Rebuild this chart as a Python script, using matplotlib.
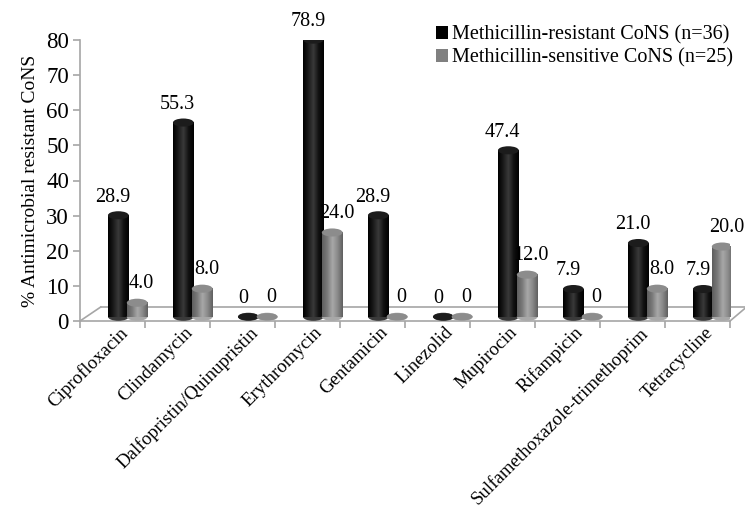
import matplotlib
matplotlib.use("Agg")
import matplotlib.pyplot as plt
import numpy as np
from matplotlib.patches import Ellipse, Rectangle
from matplotlib.lines import Line2D
from matplotlib.colors import LinearSegmentedColormap

plt.rcParams['font.family'] = ['Liberation Serif', 'DejaVu Serif']

categories = ["Ciprofloxacin", "Clindamycin", "Dalfopristin/Quinupristin", "Erythromycin",
              "Gentamicin", "Linezolid", "Mupirocin", "Rifampicin",
              "Sulfamethoxazole-trimethoprim", "Tetracycline"]
mrcons = [28.9, 55.3, 0, 78.9, 28.9, 0, 47.4, 7.9, 21.0, 7.9]
mscons = [4.0, 8.0, 0, 24.0, 0, 0, 12.0, 0, 8.0, 20.0]
mr_labels = ["28.9", "55.3", "0", "78.9", "28.9", "0", "47.4", "7.9", "21.0", "7.9"]
ms_labels = ["4.0", "8.0", "0", "24.0", "0", "0", "12.0", "0", "8.0", "20.0"]
series_names = ["Methicillin-resistant CoNS (n=36)", "Methicillin-sensitive CoNS (n=25)"]
yticks = [0, 10, 20, 30, 40, 50, 60, 70, 80]

fig = plt.figure(figsize=(7.45, 5.15), dpi=100)
ax = fig.add_axes([80/745, 194/515, 650/745, 281/515])
ax.set_xlim(0, 10)
ax.set_ylim(0, 80)

base = 1.2
w = 0.32
eh = 2.3
axcol = "#a6a6a6"

cm_black = LinearSegmentedColormap.from_list("bk", ["#000000", "#1a1a1a", "#3a3a3a", "#111111", "#000000"])
cm_gray = LinearSegmentedColormap.from_list("gr", ["#5e5e5e", "#7a7a7a", "#a8a8a8", "#8a8a8a", "#606060"])
grad = np.linspace(0, 1, 64).reshape(1, -1)

def cylinder(cx, val, cmap, topcol, z):
    top = base + val
    ax.add_patch(Ellipse((cx, base), w, eh, facecolor=cmap(0.5), edgecolor='none', zorder=z))
    if val > 0:
        ax.imshow(grad, cmap=cmap, extent=(cx - w/2, cx + w/2, base, top),
                  aspect='auto', zorder=z + 0.1, interpolation='bilinear')
        ax.add_patch(Ellipse((cx, top), w, eh, facecolor=topcol, edgecolor='none', zorder=z + 0.2))
    else:
        ax.add_patch(Ellipse((cx, base), w, eh * 0.9, facecolor=topcol, edgecolor='none', zorder=z + 0.2))

x = np.arange(len(categories))
for i in range(len(categories)):
    cx1 = i + 0.5 + 0.09
    cx2 = i + 0.5 + 0.38
    cylinder(cx1, mrcons[i], cm_black, "#1c1c1c", 3)
    cylinder(cx2, mscons[i], cm_gray, "#8c8c8c", 4)
    ax.annotate(mr_labels[i], (cx1, base + mrcons[i]), xytext=(-4, 13), textcoords='offset points',
                ha='center', va='center', fontsize=14.5, zorder=10)
    ax.annotate(ms_labels[i], (cx2, base + mscons[i]), xytext=(3, 14), textcoords='offset points',
                ha='center', va='center', fontsize=14.5, zorder=10)

ax.set_xlim(0, 10)
ax.set_ylim(0, 80)

# floor (3D base)
dx, dy = 0.32, 4.0
for seg in [((0, 10), (0, 0)), ((0, dx), (0, dy)), ((dx, 10 + dx * 0.8), (dy, dy)), ((10, 10 + dx * 0.8), (0, dy))]:
    ax.add_line(Line2D(seg[0], seg[1], color=axcol, lw=1.2, clip_on=False, zorder=1))

for s in ['top', 'right', 'bottom']:
    ax.spines[s].set_visible(False)
ax.spines['left'].set_color(axcol)
ax.spines['left'].set_linewidth(1.2)

ax.set_yticks(yticks)
ax.set_yticklabels([str(t) for t in yticks], fontsize=16.5)
ax.tick_params(axis='y', direction='out', length=5, color=axcol, width=1.2, pad=3)

ax.set_xticks(np.arange(0, 11))
ax.set_xticklabels([])
ax.tick_params(axis='x', which='major', direction='out', length=5, color=axcol, width=1.2)
ax.set_xticks(x + 0.5 + 0.1, minor=True)
ax.set_xticklabels(categories, minor=True, rotation=45, ha='right', rotation_mode='anchor', fontsize=13.6)
ax.tick_params(axis='x', which='minor', length=0, pad=2)

ax.set_ylabel("% Antimicrobial resistant CoNS", fontsize=14, labelpad=5)

handles = [Rectangle((0, 0), 1, 1, facecolor='#000000'), Rectangle((0, 0), 1, 1, facecolor='#808080')]
fig.legend(handles, series_names, loc='upper right', bbox_to_anchor=(1.0, 0.975), frameon=False,
           fontsize=14.5, handlelength=0.6, handleheight=0.6, handletextpad=0.2, labelspacing=0.2,
           borderaxespad=0.2)

fig.savefig("out.png", dpi=100)
